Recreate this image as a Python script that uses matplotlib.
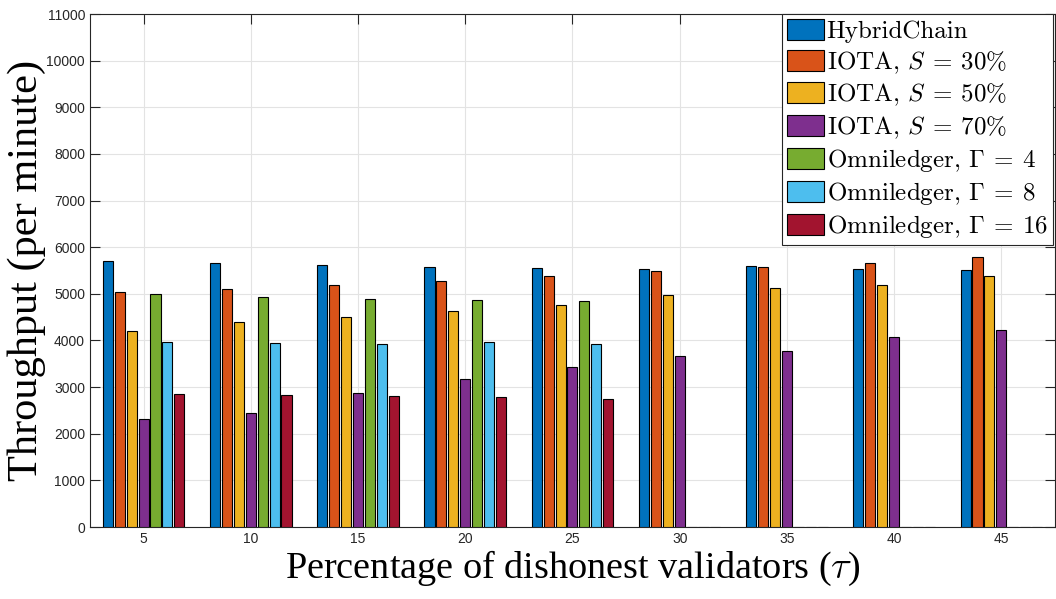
import matplotlib
matplotlib.use("Agg")
import matplotlib.pyplot as plt
import numpy as np

plt.rcParams['mathtext.fontset'] = 'cm'

# dati
tau = [5, 10, 15, 20, 25, 30, 35, 40, 45]
hybridchain = [5710, 5667, 5617, 5574, 5545, 5531, 5588, 5524, 5517]
iota_30 = [5032, 5103, 5188, 5274, 5374, 5488, 5567, 5660, 5782]
iota_50 = [4209, 4388, 4509, 4624, 4759, 4967, 5117, 5195, 5381]
iota_70 = [2322, 2444, 2880, 3180, 3430, 3659, 3780, 4080, 4224]
omni_4 = [4989, 4925, 4888, 4874, 4838, 0, 0, 0, 0]
omni_8 = [3973, 3945, 3923, 3959, 3916, 0, 0, 0, 0]
omni_16 = [2845, 2823, 2808, 2787, 2737, 0, 0, 0, 0]

serie = [hybridchain, iota_30, iota_50, iota_70, omni_4, omni_8, omni_16]
etichette = ['HybridChain',
             r'IOTA, $S\:=\:30\%$',
             r'IOTA, $S\:=\:50\%$',
             r'IOTA, $S\:=\:70\%$',
             r'Omniledger, $\Gamma\:=\:4$',
             r'Omniledger, $\Gamma\:=\:8$',
             r'Omniledger, $\Gamma\:=\:16$']
colori = ['#0072BD', '#D95319', '#EDB120', '#7E2F8E', '#77AC30', '#4DBEEE', '#A2142F']

fig = plt.figure(figsize=(10.56, 5.99), dpi=100)
ax = fig.add_axes([0.0852, 0.1202, 0.9138, 0.8564])

x = np.array(tau, dtype=float)
passo = 0.555
larghezza = 0.47
n = len(serie)
for i, (valori, lab, col) in enumerate(zip(serie, etichette, colori)):
    off = (i - (n - 1) / 2) * passo
    ax.bar(x + off, valori, larghezza, color=col, edgecolor='black',
           linewidth=0.8, label=lab, zorder=3)

ax.set_xlim(2.5, 47.5)
ax.set_ylim(0, 11000)
ax.set_xticks(tau)
ax.set_yticks(range(0, 11001, 1000))
ax.grid(True, color='#e3e3e3', linewidth=0.8, zorder=0)
ax.set_axisbelow(True)
for s in ax.spines.values():
    s.set_color('#262626')
    s.set_linewidth(0.8)
ax.tick_params(direction='in', length=7, width=0.8, top=True, right=True,
               colors='#262626', labelsize=10)
for t in ax.get_xticklabels() + ax.get_yticklabels():
    t.set_fontfamily('Liberation Sans')

ax.set_xlabel(r'Percentage of dishonest validators ($\tau$)',
              fontfamily='Liberation Serif', fontsize=27.5, labelpad=2)
ax.set_ylabel('Throughput (per minute)', fontfamily='Liberation Serif',
              fontsize=30.5, labelpad=0)

leg = ax.legend(loc='upper right', bbox_to_anchor=(0.9975, 1.0),
                prop={'family': 'cmr10', 'size': 18},
                fancybox=False, framealpha=1, edgecolor='#262626',
                borderaxespad=0.0, handlelength=1.5, handleheight=0.9,
                handletextpad=0.1, labelspacing=0.245, borderpad=0.2)
leg.get_frame().set_linewidth(0.8)

plt.savefig('out.png', dpi=100)
